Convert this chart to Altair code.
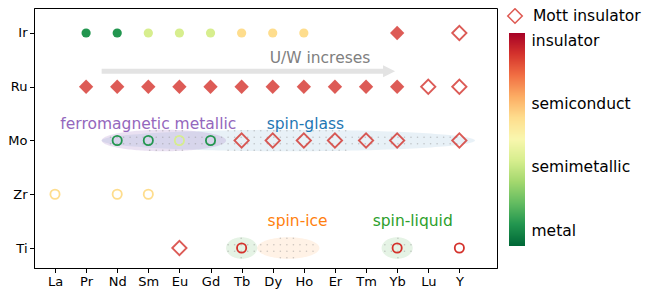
import altair as alt
import pandas as pd
import numpy as np

# ---------------- data ----------------
elements = ["La", "Pr", "Nd", "Sm", "Eu", "Gd", "Tb", "Dy", "Ho", "Er", "Tm", "Yb", "Lu", "Y"]
b_sites = ["Ti", "Zr", "Mo", "Ru", "Ir"]

# conductivity level (0 = metal ... 1 = insulator)
state_names = ["metal", "semimetallic", "semiconduct", "insulator"]
state_values = [0.1, 0.4, 0.6, 0.9]
# where the colour bar carries each label
state_ticks = [0.075, 0.375, 0.67, 0.965]

ir_A = ["Pr", "Nd", "Sm", "Eu", "Gd", "Tb", "Dy", "Ho", "Yb", "Y"]
ir_state = ["metal", "metal", "semimetallic", "semimetallic", "semimetallic",
            "semiconduct", "semiconduct", "semiconduct", "insulator", "insulator"]
ir_mott = [False, False, False, False, False, False, False, False, True, True]
ir_filled = [True, True, True, True, True, True, True, True, True, False]

ru_A = ["Pr", "Nd", "Sm", "Eu", "Gd", "Tb", "Dy", "Ho", "Er", "Tm", "Yb", "Lu", "Y"]
ru_state = ["insulator"] * 13
ru_mott = [True] * 13
ru_filled = [True] * 11 + [False, False]

mo_A = ["Nd", "Sm", "Eu", "Gd", "Tb", "Dy", "Ho", "Er", "Tm", "Yb", "Y"]
mo_state = ["metal", "metal", "semimetallic", "metal"] + ["insulator"] * 7
mo_mott = [False] * 4 + [True] * 7
mo_filled = [False] * 11

zr_A = ["La", "Nd", "Sm"]
zr_state = ["semiconduct"] * 3
zr_mott = [False] * 3
zr_filled = [False] * 3

ti_A = ["Eu", "Tb", "Yb", "Y"]
ti_state = ["insulator"] * 4
ti_mott = [True, False, False, False]
ti_filled = [False] * 4

# magnetic regions: A-site index span and B-site row
region_names = ["spin-glass", "ferromagnetic metallic", "spin-ice", "spin-liquid", "spin-liquid"]
region_from = [1.5, 1.5, 6.5, 5.5, 10.5]
region_to = [13.5, 5.5, 8.5, 6.5, 11.5]
region_row = ["Mo", "Mo", "Ti", "Ti", "Ti"]

# region labels
label_text = ["ferromagnetic metallic", "spin-glass", "spin-ice", "spin-liquid"]
label_x = [3.0, 8.05, 7.8, 11.5]
label_y = [2.3, 2.3, 0.5, 0.5]

# trend annotation
trend_text = "U/W increses"
trend_from = 1.5
trend_to = 10.74
trend_row_y = 3.29
trend_text_x = 8.52
trend_text_y = 3.54

# ---------------- styles ----------------
region_colors = {"spin-glass": "#1f77b4", "ferromagnetic metallic": "#9467bd",
                 "spin-ice": "#ff7f0e", "spin-liquid": "#2ca02c"}
region_opacity = {"spin-glass": 0.1, "ferromagnetic metallic": 0.2,
                  "spin-ice": 0.1, "spin-liquid": 0.12}
FONT = "DejaVu Sans"
ELL_RY = 0.2
W, H = 463, 260

# ---------------- tables ----------------
rows = []
for b, A, st, mo, fi in [("Ir", ir_A, ir_state, ir_mott, ir_filled),
                         ("Ru", ru_A, ru_state, ru_mott, ru_filled),
                         ("Mo", mo_A, mo_state, mo_mott, mo_filled),
                         ("Zr", zr_A, zr_state, zr_mott, zr_filled),
                         ("Ti", ti_A, ti_state, ti_mott, ti_filled)]:
    for a, s, m, f in zip(A, st, mo, fi):
        rows.append({"A": a, "B": b, "xi": elements.index(a), "yi": b_sites.index(b),
                     "state": state_values[state_names.index(s)],
                     "marker": "Mott insulator" if m else "other",
                     "filled": f})
df = pd.DataFrame(rows)

t = np.linspace(0, np.pi, 91)
ell_rows = []
dot_rows = []
for k, (n, x0, x1, r) in enumerate(zip(region_names, region_from, region_to, region_row)):
    cx, rx = (x0 + x1) / 2, (x1 - x0) / 2
    cy, ry = b_sites.index(r), ELL_RY
    for tt in t:
        ell_rows.append({"id": k, "name": n, "xi": cx - rx * np.cos(tt),
                         "ylo": cy - ry * np.sin(tt), "yhi": cy + ry * np.sin(tt)})
    # dotted hatch inside the region
    for gx in np.arange(0.105, 14.2, 0.21):
        for gy in np.arange(cy - 0.18, cy + 0.181, 0.12):
            if ((gx - cx) / rx) ** 2 + ((gy - cy) / ry) ** 2 < 0.92:
                dot_rows.append({"xi": gx, "yi": gy})
ell = pd.DataFrame(ell_rows)
dots = pd.DataFrame(dot_rows).drop_duplicates()

labels_df = pd.DataFrame({"text": label_text, "xi": label_x, "yi": label_y})

# colour bar ramp
ramp = np.linspace(0, 1, 214)
bar_df = pd.DataFrame({"v": ramp[:-1], "v2": ramp[1:], "b0": 0.0, "b1": 1.0})

# ---------------- scales / axes ----------------
xscale = alt.Scale(domain=[-0.675, 14.21], nice=False, zero=False)
yscale = alt.Scale(domain=[-0.372, 4.465], nice=False, zero=False)
x_names = "[" + ",".join(f"'{e}'" for e in elements) + "]"
y_names = "[" + ",".join(f"'{b}'" for b in b_sites) + "]"
xaxis = alt.Axis(values=list(range(len(elements))), labelExpr=f"{x_names}[datum.value]",
                 title=None, grid=False)
yaxis = alt.Axis(values=list(range(len(b_sites))), labelExpr=f"{y_names}[datum.value]",
                 title=None, grid=False)


def X(f):
    return alt.X(f, scale=xscale, axis=xaxis)


def Y(f):
    return alt.Y(f, scale=yscale, axis=yaxis)


layers = []

# regions
for k, n in enumerate(region_names):
    layers.append(
        alt.Chart(ell[ell["id"] == k]).mark_area(
            color=region_colors[n], opacity=region_opacity[n]
        ).encode(x=X("xi:Q"), y=Y("ylo:Q"), y2="yhi:Q")
    )
layers.append(
    alt.Chart(dots).mark_circle(color="#8c8c8c", opacity=0.45, size=2.5)
    .encode(x=X("xi:Q"), y=Y("yi:Q"))
)

# trend arrow
arrow_df = pd.DataFrame({"x0": [trend_from], "x1": [trend_to], "yi": [trend_row_y]})
layers.append(
    alt.Chart(arrow_df).mark_rule(color="#e3e3e3", strokeWidth=5).encode(
        x=X("x0:Q"), x2="x1:Q", y=Y("yi:Q"))
)
layers.append(
    alt.Chart(arrow_df).mark_point(shape="M -1 -1 L 1 0 L -1 1 Z", filled=True,
                                   color="#e3e3e3", opacity=1, size=144).encode(
        x=X("x1:Q"), y=Y("yi:Q"))
)
layers.append(
    alt.Chart(pd.DataFrame({"text": [trend_text], "xi": [trend_text_x], "yi": [trend_text_y]}))
    .mark_text(font=FONT, fontSize=15.5, color="#808080", baseline="middle")
    .encode(x=X("xi:Q"), y=Y("yi:Q"), text="text:N")
)

# region labels
for txt in label_text:
    layers.append(
        alt.Chart(labels_df[labels_df["text"] == txt]).mark_text(
            font=FONT, fontSize=15.5, color=region_colors[txt], baseline="middle"
        ).encode(x=X("xi:Q"), y=Y("yi:Q"), text="text:N")
    )

# compounds
state_scale = alt.Scale(scheme="redyellowgreen", reverse=True, domain=[0, 1])
fill_enc = alt.Fill("state:Q", scale=state_scale, legend=None)
stroke_enc = alt.Stroke("state:Q", scale=state_scale, legend=None)
shape_enc = alt.Shape(
    "marker:N",
    scale=alt.Scale(domain=["other", "Mott insulator"], range=["circle", "diamond"]),
    legend=alt.Legend(
        orient="none", legendX=473, legendY=0, title=None, values=["Mott insulator"],
        symbolSize=210, symbolStrokeWidth=1.5, symbolStrokeColor="#d73027",
        symbolFillColor="transparent", symbolOpacity=0.8, symbolType="diamond",
        labelFont=FONT, labelFontSize=15.5, labelColor="black", labelOffset=10, padding=0,
    ),
)

marker_style = {"other": {"size": 85, "opacity": 1.0}, "Mott insulator": {"size": 205, "opacity": 0.8}}
for filled in [False, True]:
    for mk in ["other", "Mott insulator"]:
        sub = df[(df["filled"] == filled) & (df["marker"] == mk)]
        if len(sub) == 0:
            continue
        st = marker_style[mk]
        mark = alt.Chart(sub).mark_point(
            filled=filled, strokeWidth=1.8, size=st["size"], opacity=st["opacity"])
        if filled:
            enc = mark.encode(x=X("xi:Q"), y=Y("yi:Q"), fill=fill_enc, shape=shape_enc)
        else:
            enc = mark.encode(x=X("xi:Q"), y=Y("yi:Q"), stroke=stroke_enc, shape=shape_enc)
        layers.append(enc)

main = alt.layer(*layers)

# colour bar: its own x / y scales, placed right of the plot (bar 475..491 px, 25..238 px)
BAR_X0, BAR_W, BAR_TOP, BAR_LEN = 475, 16, 25, 213
bar_x = alt.Scale(domain=[-BAR_X0 / BAR_W, (W - BAR_X0) / BAR_W], nice=False, zero=False)
bar_y = alt.Scale(domain=[-(H - BAR_TOP - BAR_LEN) / BAR_LEN, 1 + BAR_TOP / BAR_LEN],
                  nice=False, zero=False)
bar_label_expr = "[" + ",".join(f"'{s}'" for s in state_names) + "]" + \
    "[indexof([" + ",".join(str(v) for v in state_ticks) + "], datum.value)]"
colorbar = alt.Chart(bar_df).mark_rect(strokeWidth=0).encode(
    x=alt.X("b0:Q", scale=bar_x, axis=None),
    x2="b1:Q",
    y=alt.Y("v:Q", scale=bar_y,
            axis=alt.Axis(orient="right", values=state_ticks, labelExpr=bar_label_expr,
                          title=None, grid=False, domain=False, ticks=False,
                          offset=BAR_X0 + BAR_W - W, labelPadding=6, labelFontSize=15.5,
                          labelFont=FONT, labelColor="black", labelOverlap=False,
                          labelBound=False, labelFlush=False)),
    y2="v2:Q",
    fill=alt.Fill("v:Q", scale=state_scale, legend=None),
)

chart = alt.layer(main, colorbar).resolve_scale(
    x="independent", y="independent"
).properties(
    width=W, height=H,
    padding={"left": 26, "top": 0, "right": 163, "bottom": 21},
    autosize="none",
).configure_view(
    stroke="black", strokeWidth=1
).configure_axis(
    domainColor="black", tickColor="black", labelColor="black", labelFont=FONT,
    labelFontSize=13, tickSize=4.5, labelPadding=2.5, domainWidth=1, tickWidth=1,
)

chart.save("out.html", embed_options={"renderer": "svg", "actions": False})
